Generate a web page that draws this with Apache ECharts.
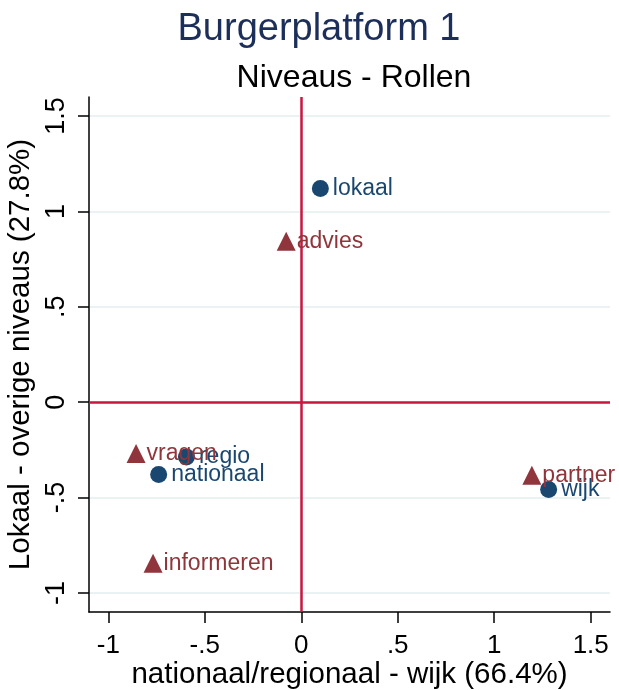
<!DOCTYPE html>
<html>
<head>
<meta charset="utf-8">
<script src="https://cdn.jsdelivr.net/npm/echarts@6/dist/echarts.min.js"></script>
<style>
  html, body { margin: 0; padding: 0; background: #fff; }
  #main { width: 619px; height: 690px; }
</style>
</head>
<body>
<div id="main"></div>
<script>
// niveaus (rondjes)
var niveauNames = ['lokaal', 'regio', 'nationaal', 'wijk'];
var niveauX = [0.099, -0.595, -0.739, 1.282];
var niveauY = [1.12, -0.287, -0.379, -0.458];
// rollen (driehoekjes)
var rolNames = ['advies', 'vragen', 'informeren', 'partner'];
var rolX = [-0.078, -0.856, -0.768, 1.195];
var rolY = [0.844, -0.269, -0.845, -0.383];
// tick labels
var xTicks = [-1, -0.5, 0, 0.5, 1, 1.5];
var yTicks = [-1, -0.5, 0, 0.5, 1, 1.5];

var navy = '#1a476f';
var maroon = '#90353b';
var lineRed = '#c8173f';
var font = 'Liberation Sans, Arial, sans-serif';

function stataFmt(v) {
    if (v === 0) return '0';
    var s = String(Math.abs(v)).replace(/^0/, '');
    return (v < 0 ? '-' : '') + s;
}

function pts(names, xs, ys) {
    var out = [];
    for (var i = 0; i < names.length; i++) {
        out.push({ name: names[i], value: [xs[i], ys[i]] });
    }
    return out;
}

var myChart = echarts.init(document.getElementById('main'));
var options = {
    backgroundColor: '#fff',
    animation: false,
    title: [
        {
            text: 'Burgerplatform 1',
            left: 314, top: 6, textAlign: 'center',
            textStyle: { fontFamily: font, fontSize: 38, fontWeight: 'normal', color: '#1c2e5a' }
        },
        {
            text: 'Niveaus - Rollen',
            left: 349, top: 57, textAlign: 'center',
            textStyle: { fontFamily: font, fontSize: 32, fontWeight: 'normal', color: '#000' }
        }
    ],
    grid: { left: 89, right: 9, top: 97, bottom: 78, outerBoundsMode: 'none', containLabel: false },
    xAxis: {
        type: 'value',
        min: -1.10, max: 1.60,
        name: 'nationaal/regionaal - wijk (66.4%)',
        nameLocation: 'middle',
        nameGap: 48,
        nameMoveOverlap: false,
        nameTextStyle: { fontFamily: font, fontSize: 29.5, color: '#000' },
        axisLine: { onZero: false, lineStyle: { color: '#000', width: 1.5 } },
        axisTick: { show: true, length: 11, customValues: xTicks, lineStyle: { color: '#000', width: 1.5 } },
        axisLabel: {
            customValues: xTicks, margin: 21,
            fontFamily: font, fontSize: 26, color: '#000',
            formatter: stataFmt
        },
        splitLine: { show: false }
    },
    yAxis: {
        type: 'value',
        min: -1.10, max: 1.60,
        name: 'Lokaal - overige niveaus (27.8%)',
        nameLocation: 'middle',
        nameGap: 53,
        nameMoveOverlap: false,
        nameTextStyle: { fontFamily: font, fontSize: 29.5, color: '#000' },
        axisLine: { show: true, onZero: false, lineStyle: { color: '#000', width: 1.5 } },
        axisTick: { show: true, length: 11, customValues: yTicks, lineStyle: { color: '#000', width: 1.5 } },
        axisLabel: {
            customValues: yTicks, rotate: 90, margin: 19,
            fontFamily: font, fontSize: 27, color: '#000',
            formatter: stataFmt
        },
        splitLine: { show: true, lineStyle: { color: '#eaf2f3', width: 2 } }
    },
    series: [
        {
            name: 'Niveaus',
            type: 'scatter',
            symbol: 'circle',
            symbolSize: 17,
            itemStyle: { color: navy, opacity: 1 },
            label: {
                show: true, position: 'right', distance: 4,
                formatter: '{b}',
                fontFamily: font, fontSize: 23, color: navy
            },
            data: pts(niveauNames, niveauX, niveauY),
            markLine: {
                silent: true,
                symbol: 'none',
                label: { show: false },
                lineStyle: { color: lineRed, width: 2.5, type: 'solid', opacity: 1 },
                data: [{ xAxis: 0 }, { yAxis: 0 }],
                z: 1
            },
            z: 3
        },
        {
            name: 'Rollen',
            type: 'scatter',
            symbol: 'triangle',
            symbolSize: 19,
            itemStyle: { color: maroon, opacity: 1 },
            label: {
                show: true, position: 'right', distance: 1,
                formatter: '{b}',
                fontFamily: font, fontSize: 23, color: maroon
            },
            data: pts(rolNames, rolX, rolY),
            z: 4
        }
    ]
};
myChart.setOption(options);
</script>
</body>
</html>
